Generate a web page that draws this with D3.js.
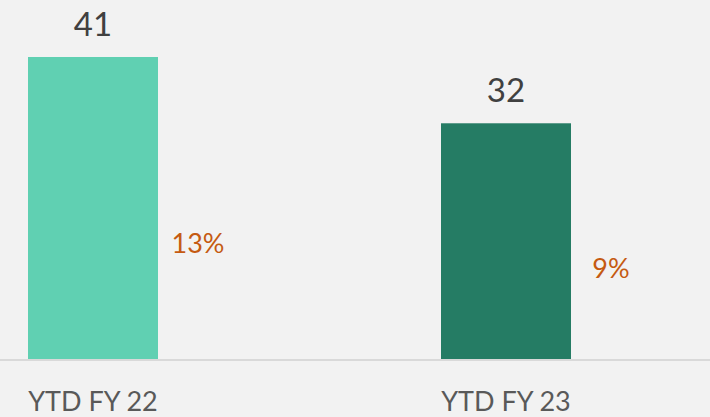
<!DOCTYPE html>
<html><head><meta charset="utf-8">
<script src="https://cdn.jsdelivr.net/npm/d3@7"></script>
<style>html,body{margin:0;padding:0;background:#f2f2f2;}svg{display:block;}</style>
</head><body>
<script>
const categories = ["YTD FY 22", "YTD FY 23"];
const values = [41, 32];
const percents = [13, 9];
const percentLabels = ["13%", "9%"];
const barColors = ["#60d0b2", "#257c64"];

const W = 710, H = 417;
const svg = d3.select("body").append("svg").attr("width", W).attr("height", H);
svg.append("rect").attr("width", W).attr("height", H).attr("fill", "#f2f2f2");

const x = d3.scalePoint().domain(categories).range([93, 506]);
const y = d3.scaleLinear().domain([0, 45]).range([359, 359 - 45 * 7.366]);
const y2 = d3.scaleLinear().domain([0, 20]).range([323.6, 323.6 - 20 * 6.125]);
const barW = 130;
const font = "Lato, 'Open Sans', sans-serif";

svg.selectAll("rect.bar").data(values).enter().append("rect")
  .attr("class", "bar")
  .attr("x", (d, i) => x(categories[i]) - barW / 2)
  .attr("y", d => y(d))
  .attr("width", barW)
  .attr("height", d => y(0) - y(d))
  .attr("fill", (d, i) => barColors[i]);

// baseline axis
const axis = d3.axisBottom(x).tickSize(0).tickPadding(0).tickFormat("");
const g = svg.append("g").attr("transform", `translate(0,${y(0) + 1})`).call(axis);
g.select(".domain").attr("d", `M0,0H${W}`).attr("stroke", "#d9d9d9").attr("stroke-width", 2);

svg.selectAll("text.cat").data(categories).enter().append("text")
  .attr("class", "cat")
  .attr("x", d => x(d))
  .attr("y", 411)
  .attr("text-anchor", "middle")
  .attr("font-family", font).attr("font-size", 27)
  .attr("fill", "#595959")
  .text(d => d);

svg.selectAll("text.val").data(values).enter().append("text")
  .attr("class", "val")
  .attr("x", (d, i) => x(categories[i]))
  .attr("y", d => y(d) - 21)
  .attr("text-anchor", "middle")
  .attr("font-family", font).attr("font-size", 33)
  .attr("fill", "#404040")
  .text(d => d);

svg.selectAll("text.pct").data(percents).enter().append("text")
  .attr("class", "pct")
  .attr("x", (d, i) => x(categories[i]) + 105)
  .attr("y", d => y2(d))
  .attr("dy", "0.35em")
  .attr("text-anchor", "middle")
  .attr("font-family", font).attr("font-size", 27)
  .attr("fill", "#c55a11")
  .text((d, i) => percentLabels[i]);
</script>
</body></html>
